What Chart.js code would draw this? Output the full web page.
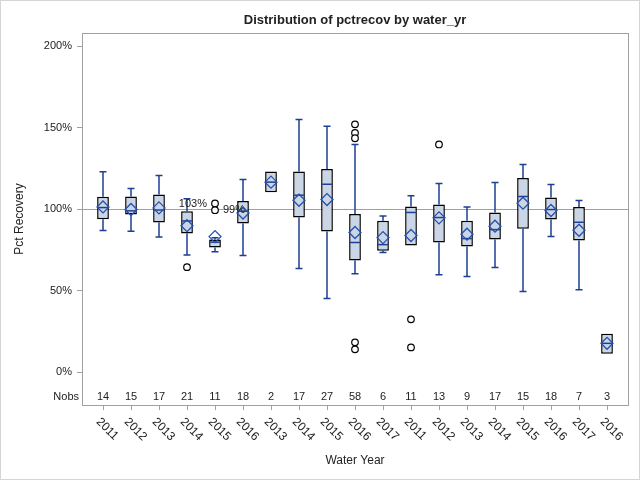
<!DOCTYPE html>
<html>
<head>
<meta charset="utf-8">
<title>Distribution of pctrecov by water_yr</title>
<script src="https://cdn.jsdelivr.net/npm/chart.js@4"></script>
<style>
  html, body { margin: 0; padding: 0; background: #fff; }
  #wrap { width: 640px; height: 480px; }
</style>
</head>
<body>
<div id="wrap"><canvas id="chart" width="640" height="480"></canvas></div>
<script>
// ===== DATA =====
const waterYears = ['2011', '2012', '2013', '2014', '2015', '2016', '2013', '2014', '2015', '2016',
  '2017', '2011', '2012', '2013', '2014', '2015', '2016', '2017', '2016'];
const nobs = [14, 15, 17, 21, 11, 18, 2, 17, 27, 58, 6, 11, 13, 9, 17, 15, 18, 7, 3];

const whiskerLow = [87, 86.5, 83, 72, 74, 71.6, null, 63.6, 45.2, 60.5, 73.4, null, 59.9, 58.7, 64.2, 49.5, 83.2, 50.7, null];
const q1 = [93.8, 96.7, 91.8, 85.1, 76.5, 91.2, 110.4, 94.9, 86.3, 68.5, 74.6, 77.7, 79.6, 77.1, 81.4, 88.1, 93.7, 80.8, 11.4];
const medians = [101, 99, 99.5, 92.8, 79.8, 98.8, 116.6, 108.6, 115.3, 79.6, 78.3, 98, 94.9, 82, 87.5, 107.8, 99.8, 92, 17.8];
const q3 = [107.7, 107.8, 109, 98.7, 81.5, 105.1, 123.1, 123.1, 124.7, 97.1, 93, 101.6, 102.9, 93, 98, 119.2, 107.2, 101.4, 23.7];
const whiskerHigh = [123, 112.7, 120.6, 106.4, 82.5, 118.2, null, 155, 150.9, 139.7, 95.9, 108.2, 115.7, 101.4, 116.4, 127.4, 115.1, 105.3, null];
const means = [101.4, 99.8, 100.8, 89.9, 83.2, 97.7, 116.6, 105.5, 105.9, 85.7, 82.6, 83.9, 94.7, 84.7, 89.6, 103.7, 99.2, 87.1, 17.8];

// outliers as [box index, value]
const outliers = [[3, 64.5], [4, 103.5], [4, 99.4], [9, 152], [9, 146.7], [9, 143.5], [9, 18.4], [9, 14.1],
  [11, 32.5], [11, 15.3], [12, 139.7]];
// labelled outliers: [box index, value, text, side]
const outlierLabels = [[4, 103.5, '103%', 'left'], [4, 99.4, '99%', 'right']];

const yTicks = [0, 50, 100, 150, 200];
const referenceValue = 100;
const nobsRowValue = -15;

// ===== STYLE =====
const FONT = "'Liberation Sans', Arial, sans-serif";
const TEXT = '#222222';
const AXIS = '#A0A0A0';
const BOX_FILL = '#CAD5E5';
const WHISKER = '#1C3F95';
const MEAN = '#2450B0';

/**
 * Draws whiskers, medians, frame, labels and the Nobs row
 */
const boxPlotExtras = {
  id: 'boxPlotExtras',

  beforeDatasetsDraw(chart) {
    const { ctx, chartArea, scales: { x, y } } = chart;
    ctx.save();

    // 100% reference line
    const ry = Math.round(y.getPixelForValue(referenceValue)) + 0.5;
    ctx.strokeStyle = AXIS;
    ctx.lineWidth = 1;
    ctx.beginPath();
    ctx.moveTo(chartArea.left, ry);
    ctx.lineTo(chartArea.right, ry);
    ctx.stroke();

    // whiskers with caps
    ctx.strokeStyle = WHISKER;
    ctx.lineWidth = 1.5;
    waterYears.forEach((_, i) => {
      const px = x.getPixelForValue(i);
      [[whiskerLow[i], q1[i]], [whiskerHigh[i], q3[i]]].forEach(([end, edge]) => {
        if (end === null) return;
        const ey = y.getPixelForValue(end);
        ctx.beginPath();
        ctx.moveTo(px, y.getPixelForValue(edge));
        ctx.lineTo(px, ey);
        ctx.moveTo(px - 3.5, ey);
        ctx.lineTo(px + 3.5, ey);
        ctx.stroke();
      });
    });
    ctx.restore();
  },

  afterDatasetDraw(chart, args) {
    if (args.index !== 0) return;
    const { ctx, scales: { x, y } } = chart;
    const bars = args.meta.data;
    ctx.save();
    ctx.strokeStyle = WHISKER;
    ctx.lineWidth = 1.5;
    medians.forEach((m, i) => {
      const half = bars[i].width / 2 - 1;
      const my = y.getPixelForValue(m);
      const px = x.getPixelForValue(i);
      ctx.beginPath();
      ctx.moveTo(px - half, my);
      ctx.lineTo(px + half, my);
      ctx.stroke();
    });
    ctx.restore();
  },

  afterDraw(chart) {
    const { ctx, chartArea, scales: { x, y } } = chart;
    ctx.save();

    // plot frame and outer border
    ctx.strokeStyle = AXIS;
    ctx.lineWidth = 1;
    ctx.strokeRect(Math.round(chartArea.left) + 0.5, Math.round(chartArea.top) + 0.5,
      Math.round(chartArea.right - chartArea.left), Math.round(chartArea.bottom - chartArea.top));
    ctx.strokeStyle = '#D4D4D4';
    ctx.strokeRect(0.5, 0.5, chart.width - 1, chart.height - 1);

    // title centered over the plot area
    ctx.fillStyle = TEXT;
    ctx.font = `bold 13px ${FONT}`;
    ctx.textAlign = 'center';
    ctx.textBaseline = 'middle';
    ctx.fillText('Distribution of pctrecov by water_yr', (chartArea.left + chartArea.right) / 2, 20);

    // Nobs row
    ctx.font = `11px ${FONT}`;
    const ny = y.getPixelForValue(nobsRowValue);
    nobs.forEach((n, i) => ctx.fillText(String(n), x.getPixelForValue(i), ny));
    ctx.textAlign = 'right';
    ctx.fillText('Nobs', chartArea.left - 3, ny);

    // outlier labels
    ctx.font = `11px ${FONT}`;
    outlierLabels.forEach(([i, v, text, side]) => {
      const px = x.getPixelForValue(i);
      ctx.textAlign = side === 'left' ? 'right' : 'left';
      ctx.fillText(text, side === 'left' ? px - 8 : px + 8, y.getPixelForValue(v));
    });

    // rotated category labels (reading downwards to the right)
    ctx.font = `12px ${FONT}`;
    ctx.textAlign = 'left';
    waterYears.forEach((label, i) => {
      ctx.save();
      ctx.translate(x.getPixelForValue(i) - 5, chartArea.bottom + 15);
      ctx.rotate(Math.PI / 4);
      ctx.fillText(label, 0, 0);
      ctx.restore();
    });
    ctx.restore();
  }
};

const chart = new Chart(document.getElementById('chart'), {
  type: 'bar',
  data: {
    datasets: [
      {
        label: 'Box',
        order: 3,
        data: waterYears.map((_, i) => ({ x: i, y: [q1[i], q3[i]] })),
        backgroundColor: BOX_FILL,
        borderColor: '#000000',
        borderWidth: 1.5,
        borderSkipped: false,
        barPercentage: 0.42,
        categoryPercentage: 1
      },
      {
        type: 'scatter',
        label: 'Outliers',
        order: 2,
        data: outliers.map(([i, v]) => ({ x: i, y: v })),
        pointStyle: 'circle',
        pointRadius: 3.3,
        pointBackgroundColor: '#ffffff',
        pointBorderColor: '#000000',
        pointBorderWidth: 1.2
      },
      {
        type: 'scatter',
        label: 'Mean',
        order: 1,
        data: means.map((v, i) => ({ x: i, y: v })),
        pointStyle: 'rectRot',
        pointRadius: 6,
        pointBackgroundColor: 'rgba(0,0,0,0)',
        pointBorderColor: MEAN,
        pointBorderWidth: 1.3
      }
    ]
  },
  options: {
    responsive: false,
    animation: false,
    layout: { padding: { top: 33, right: 12, left: 0, bottom: 0 } },
    plugins: {
      legend: { display: false },
      tooltip: { enabled: false },
      title: { display: false }
    },
    scales: {
      x: {
        type: 'linear',
        offset: false,
        min: -0.75,
        max: 18.75,
        afterBuildTicks: scale => { scale.ticks = waterYears.map((_, i) => ({ value: i })); },
        afterFit: scale => { scale.height = 75; },
        ticks: { display: false },
        grid: { display: true, offset: false, drawOnChartArea: false, drawTicks: true, tickLength: 5, color: AXIS },
        border: { display: true, color: AXIS },
        title: {
          display: true,
          text: 'Water Year',
          color: TEXT,
          font: { family: FONT, size: 12 },
          padding: { top: 0, bottom: 12 }
        }
      },
      y: {
        type: 'linear',
        min: -20,
        max: 208,
        afterBuildTicks: scale => { scale.ticks = yTicks.map(value => ({ value })); },
        afterFit: scale => { scale.width = 82; },
        ticks: {
          color: TEXT,
          padding: 5,
          font: { family: FONT, size: 11 },
          callback: value => `${value}%`
        },
        grid: { display: true, drawOnChartArea: false, drawTicks: true, tickLength: 5, color: AXIS },
        border: { display: true, color: AXIS },
        title: {
          display: true,
          text: 'Pct Recovery',
          color: TEXT,
          font: { family: FONT, size: 12 },
          padding: { top: 12, bottom: 0 }
        }
      }
    }
  },
  plugins: [boxPlotExtras]
});
</script>
</body>
</html>
